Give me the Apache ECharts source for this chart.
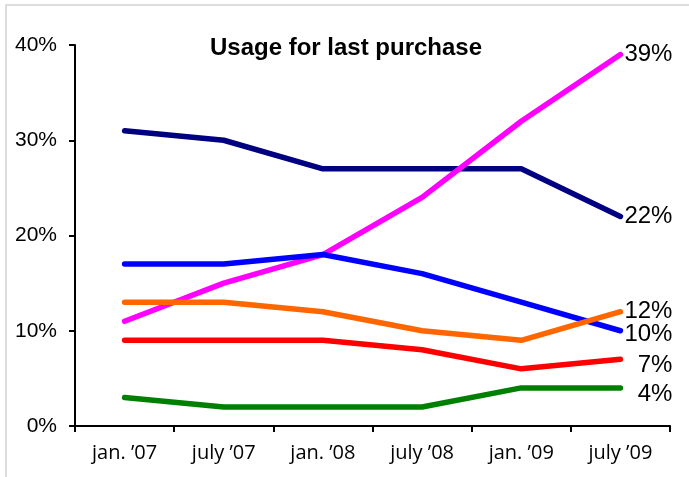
<!DOCTYPE html>
<html>
<head>
<meta charset="utf-8">
<script src="https://cdn.jsdelivr.net/npm/echarts@6/dist/echarts.min.js"></script>
<style>html,body{margin:0;padding:0;background:#fff}#c{width:689px;height:477px}</style>
</head>
<body>
<div id="c"></div>
<script>
var categories = ["jan. \u201907", "july \u201907", "jan. \u201908", "july \u201908", "jan. \u201909", "july \u201909"];
var yTicks = [0, 10, 20, 30, 40];
var navy = [31, 30, 27, 27, 27, 22];
var magenta = [11, 15, 18, 24, 32, 39];
var blue = [17, 17, 18, 16, 13, 10];
var orange = [13, 13, 12, 10, 9, 12];
var red = [9, 9, 9, 8, 6, 7];
var green = [3, 2, 2, 2, 4, 4];

function mk(data, color, dy) {
  return {
    type: 'line', data: data, showSymbol: false, symbol: 'none',
    lineStyle: { color: color, width: 5.5, cap: 'round', join: 'round' },
    itemStyle: { color: color },
    animation: false,
    endLabel: {
      show: true, formatter: function (p) { return p.value + '%'; },
      color: '#000', fontFamily: 'Liberation Sans, Arial', fontSize: 24,
      align: 'right', offset: [47, dy], distance: 5
    }
  };
}
var chart = echarts.init(document.getElementById('c'));
chart.setOption({
  animation: false,
  title: {
    text: 'Usage for last purchase', left: 341, top: 31, textAlign: 'center',
    textStyle: { fontFamily: 'Liberation Sans, Arial', fontWeight: 'bold', fontSize: 24, color: '#000' }
  },
  graphic: [{ type: 'polyline', shape: { points: [[6, 477], [6, 5], [689, 5]] }, style: { stroke: '#dddddd', lineWidth: 2, fill: null } }],
  grid: { left: 75, right: 19, top: 45, bottom: 51 },
  xAxis: {
    type: 'category', data: categories, boundaryGap: true,
    axisLine: { lineStyle: { color: '#000', width: 2 } },
    axisTick: { show: true, length: 6, lineStyle: { color: '#000', width: 2 } },
    axisLabel: { color: '#000', fontFamily: 'Open Sans', fontSize: 20, margin: 17, interval: 0 }
  },
  yAxis: {
    type: 'value', min: 0, max: 40, interval: 10,
    axisLine: { show: true, lineStyle: { color: '#000', width: 2 } },
    axisTick: { show: true, length: 6, lineStyle: { color: '#000', width: 2 } },
    splitLine: { show: false },
    axisLabel: { color: '#000', fontFamily: 'Liberation Sans, Arial', fontSize: 21, margin: 18, formatter: '{value}%' }
  },
  series: [
    mk(navy, '#000080', 0),
    mk(magenta, '#ff00ff', 0),
    mk(blue, '#0000ff', 4),
    mk(orange, '#ff6600', 0),
    mk(red, '#ff0000', 6),
    mk(green, '#008000', 6)
  ]
});
</script>
</body>
</html>
